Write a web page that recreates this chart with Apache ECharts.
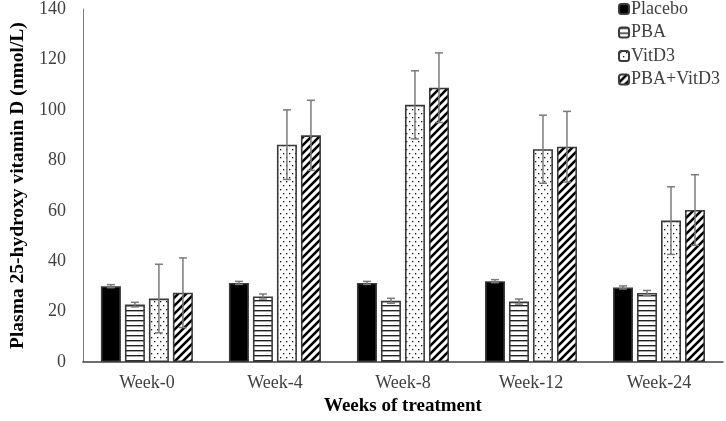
<!DOCTYPE html>
<html>
<head>
<meta charset="utf-8">
<script src="https://cdn.jsdelivr.net/npm/echarts@6/dist/echarts.min.js"></script>
<style>html,body{margin:0;padding:0;background:#fff}#c{width:726px;height:421px}</style>
</head>
<body>
<div id="c"></div>
<script>
const categories = ['Week-0', 'Week-4', 'Week-8', 'Week-12', 'Week-24'];
const seriesNames = ['Placebo', 'PBA', 'VitD3', 'PBA+VitD3'];
const placebo = [30.1, 31.4, 31.4, 32.1, 29.6];
const pba = [22.8, 26.0, 24.3, 24.0, 27.4];
const vitd3 = [25.2, 86.2, 102.0, 84.4, 56.1];
const pbaVitd3 = [27.5, 89.9, 108.8, 85.4, 60.3];
const placeboErr = [0.6, 0.6, 0.6, 0.6, 0.6];
const pbaErr = [0.9, 1.0, 1.0, 1.0, 1.0];
const vitd3Err = [13.6, 13.8, 13.5, 13.5, 13.4];
const pbaVitd3Err = [13.8, 13.9, 13.8, 14.0, 14.0];
const yTicks = { min: 0, max: 140, interval: 20 };

function makePattern(w, h, draw) {
  const c = document.createElement('canvas');
  c.width = w; c.height = h;
  const ctx = c.getContext('2d');
  ctx.fillStyle = '#fff';
  ctx.fillRect(0, 0, w, h);
  draw(ctx);
  return { image: c, repeat: 'repeat' };
}
const hLines = makePattern(5, 5, ctx => { ctx.fillStyle = '#222'; ctx.fillRect(0, 0, 5, 1.4); });
const dots = makePattern(6, 8, ctx => { ctx.fillStyle = '#111'; ctx.fillRect(1, 1, 1.3, 1.3); ctx.fillRect(4, 5, 1.3, 1.3); });
const diag = makePattern(8, 8, ctx => {
  ctx.strokeStyle = '#000'; ctx.lineWidth = 2.6;
  ctx.beginPath();
  ctx.moveTo(-4, 4); ctx.lineTo(4, -4);
  ctx.moveTo(0, 8); ctx.lineTo(8, 0);
  ctx.moveTo(4, 12); ctx.lineTo(12, 4);
  ctx.stroke();
});
const fills = ['#000', hLines, dots, diag];
const values = [placebo, pba, vitd3, pbaVitd3];
const errs = [placeboErr, pbaErr, vitd3Err, pbaVitd3Err];

const BAR_W = 20, PITCH = 24;
const font = 'Liberation Serif';

const series = [];
seriesNames.forEach((name, i) => {
  series.push({
    name, type: 'bar', data: values[i], barWidth: BAR_W, barGap: '20%',
    itemStyle: { color: fills[i], borderColor: '#3a3a3a', borderWidth: 1.6 },
    emphasis: { disabled: true }
  });
});
seriesNames.forEach((name, i) => {
  const offset = (i - 1.5) * PITCH;
  series.push({
    type: 'custom', name: name + ' err', silent: true, z: 5,
    data: values[i].map((v, k) => [k, v - errs[i][k], v + errs[i][k]]),
    renderItem(params, api) {
      const lo = api.coord([api.value(0), api.value(1)]);
      const hi = api.coord([api.value(0), api.value(2)]);
      const x = lo[0] + offset;
      const cap = 4;
      const st = { stroke: '#7a7a7a', lineWidth: 1.5 };
      return { type: 'group', children: [
        { type: 'line', shape: { x1: x, y1: lo[1], x2: x, y2: hi[1] }, style: st },
        { type: 'line', shape: { x1: x - cap, y1: hi[1], x2: x + cap, y2: hi[1] }, style: st },
        { type: 'line', shape: { x1: x - cap, y1: lo[1], x2: x + cap, y2: lo[1] }, style: st }
      ]};
    }
  });
});

const chart = echarts.init(document.getElementById('c'), null, { renderer: 'canvas' });
chart.setOption({
  animation: false,
  backgroundColor: '#fff',
  textStyle: { fontFamily: font },
  grid: { left: 66, right: 3, top: 7, bottom: 54 },
  legend: {
    data: seriesNames, orient: 'vertical', left: 618, top: 0, padding: 0,
    itemWidth: 10, itemHeight: 10, itemGap: 5.5,
    textStyle: { fontFamily: font, fontSize: 18, color: '#404040', padding: [0, 0, 0, -3] },
    selectedMode: false
  },
  xAxis: {
    type: 'category', data: categories,
    axisLine: { lineStyle: { color: '#404040', width: 1.5 } },
    axisTick: { show: false },
    axisLabel: { fontFamily: font, fontSize: 18, color: '#404040', margin: 12 },
    name: 'Weeks of treatment', nameLocation: 'middle', nameGap: 32,
    nameTextStyle: { fontFamily: font, fontSize: 19, fontWeight: 'bold', color: '#000' }
  },
  yAxis: {
    type: 'value', min: yTicks.min, max: yTicks.max, interval: yTicks.interval,
    splitLine: { show: false },
    axisLine: { show: true, lineStyle: { color: '#808080', width: 1 } },
    axisTick: { show: false },
    axisLabel: { fontFamily: font, fontSize: 18, color: '#404040', margin: 17 },
    name: 'Plasma 25-hydroxy vitamin D (nmol/L)', nameLocation: 'middle', nameGap: 53, nameRotate: 90,
    nameTextStyle: { fontFamily: font, fontSize: 19.5, fontWeight: 'bold', color: '#000' }
  },
  series
});
</script>
</body>
</html>
